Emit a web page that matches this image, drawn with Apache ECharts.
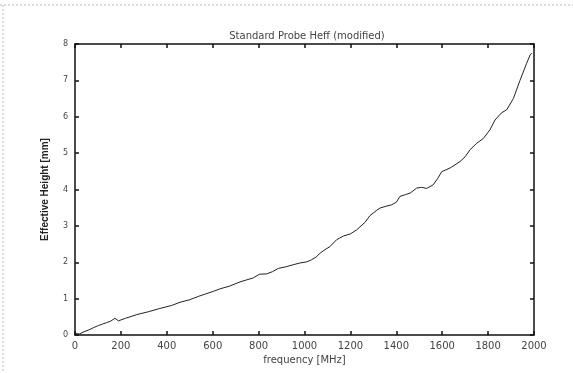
<!DOCTYPE html>
<html><head><meta charset="utf-8">
<script src="https://cdn.jsdelivr.net/npm/echarts@6/dist/echarts.min.js"></script>
<style>html,body{margin:0;padding:0;background:#fff}#c{width:573px;height:373px}</style>
</head><body><div id="c"></div>
<script>
var freq = [0, 20, 36, 60, 80, 102, 120, 138, 155, 174, 189, 220, 269, 320, 370, 420, 458, 500, 537, 570, 603, 632, 672, 719, 777, 803, 835, 860, 886, 922, 950, 980, 1010, 1031, 1050, 1068, 1090, 1111, 1140, 1169, 1200, 1227, 1264, 1285, 1315, 1329, 1355, 1380, 1400, 1416, 1440, 1460, 1489, 1510, 1532, 1561, 1580, 1598, 1634, 1678, 1700, 1721, 1750, 1779, 1808, 1830, 1859, 1881, 1910, 1939, 1968, 1983, 1990];
var heff = [0.04, 0.03, 0.08, 0.14, 0.20, 0.26, 0.30, 0.34, 0.38, 0.46, 0.39, 0.46, 0.56, 0.64, 0.73, 0.81, 0.90, 0.97, 1.06, 1.13, 1.20, 1.27, 1.34, 1.46, 1.57, 1.67, 1.68, 1.74, 1.83, 1.88, 1.93, 1.98, 2.01, 2.07, 2.14, 2.25, 2.35, 2.43, 2.62, 2.72, 2.78, 2.89, 3.10, 3.28, 3.43, 3.49, 3.54, 3.58, 3.65, 3.81, 3.86, 3.90, 4.04, 4.06, 4.03, 4.13, 4.30, 4.49, 4.59, 4.77, 4.90, 5.09, 5.27, 5.40, 5.64, 5.91, 6.11, 6.19, 6.50, 7.00, 7.47, 7.70, 7.75];
var xTicks = [0, 200, 400, 600, 800, 1000, 1200, 1400, 1600, 1800, 2000];
var yTicks = [0, 1, 2, 3, 4, 5, 6, 7, 8];
var titleText = 'Standard Probe Heff (modified)';
var xName = 'frequency [MHz]';
var yName = 'Effective Height [mm]';

var data = freq.map(function(f, i){ return [f, heff[i]]; });
var chart = echarts.init(document.getElementById('c'), null, {renderer:'canvas'});
var font = 'DejaVu Sans';
var axisCommon = {
  type: 'value',
  axisLine: {show: true, onZero: false, lineStyle: {color: '#111', width: 1.5}},
  axisTick: {show: true, inside: true, length: 4, lineStyle: {color: '#111', width: 1.5}},
  splitLine: {show: false}
};
chart.setOption({
  animation: false,
  backgroundColor: '#fff',
  title: {text: titleText, left: 302, top: 26, textAlign: 'center',
    textStyle: {fontFamily: font, fontSize: 10, fontWeight: 'normal', color: '#444'}},
  grid: {left: 75, right: 39, top: 44, bottom: 38},
  xAxis: [
    Object.assign({}, axisCommon, {position: 'bottom', min: 0, max: 2000, interval: 200,
      name: xName, nameLocation: 'middle', nameGap: 20,
      nameTextStyle: {fontFamily: font, fontSize: 10, color: '#444'},
      axisLabel: {fontFamily: font, fontSize: 10, color: '#444', margin: 6,
        formatter: function(v){ return xTicks.indexOf(v) >= 0 ? String(v) : ''; }}}),
    Object.assign({}, axisCommon, {position: 'top', min: 0, max: 2000, interval: 200,
      axisLabel: {show: false}})
  ],
  yAxis: [
    Object.assign({}, axisCommon, {position: 'left', min: 0, max: 8, interval: 1,
      name: yName, nameLocation: 'middle', nameGap: 25, nameRotate: 90,
      nameTextStyle: {fontFamily: 'Liberation Sans', fontSize: 10, fontWeight: 'bold', color: '#222'},
      axisLabel: {fontFamily: font, fontSize: 8, color: '#444', margin: 7,
        formatter: function(v){ return yTicks.indexOf(v) >= 0 ? String(v) : ''; }}}),
    Object.assign({}, axisCommon, {position: 'right', min: 0, max: 8, interval: 1,
      axisLabel: {show: false}})
  ],
  series: [{
    type: 'line', data: data, showSymbol: false, symbol: 'none',
    lineStyle: {color: '#222', width: 1}, smooth: false
  }],
  graphic: [
    {type: 'line', shape: {x1: 0, y1: 5, x2: 573, y2: 5}, style: {stroke: '#bbb', lineWidth: 1, lineDash: [2, 2]}},
    {type: 'line', shape: {x1: 3, y1: 5, x2: 3, y2: 373}, style: {stroke: '#bbb', lineWidth: 1, lineDash: [2, 2]}}
  ]
});
</script></body></html>
